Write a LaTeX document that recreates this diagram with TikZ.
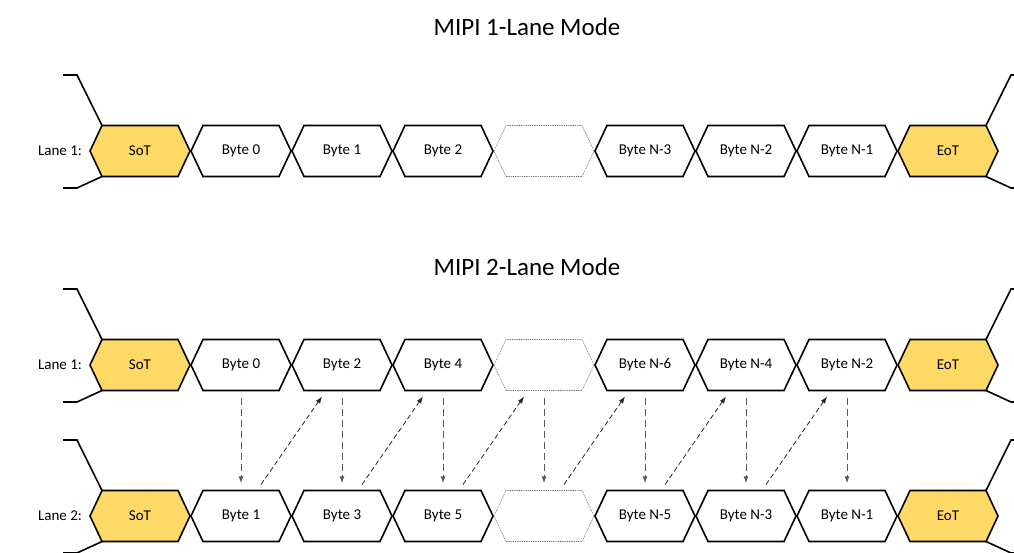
\documentclass[tikz,border=0pt]{standalone}
\usepackage{fontspec}
\setmainfont{Carlito}
\usetikzlibrary{arrows.meta}
\definecolor{sotyellow}{HTML}{FFD966}

% hexagon at (x,y), named node, style, label
\newcommand\hexbyte[5]{\draw[#4] ({#1-50},#2) -- ({#1-38},{#2-25.5}) -- ({#1+38},{#2-25.5}) -- ({#1+50},#2) -- ({#1+38},{#2+25.5}) -- ({#1-38},{#2+25.5}) -- cycle ; \node[lbl] (#3) at (#1,#2) {#5} ; }
% lead lines left and right of a lane
\newcommand\leads[1]{\draw[hexline] (63,{#1-76}) -- (77,{#1-76}) -- (102,{#1-25.5}) ; \draw[hexline] (102,{#1+25.5}) -- (77,{#1+37}) -- (63,{#1+37}) ; \draw[hexline] (1025,{#1-76}) -- (1011,{#1-76}) -- (986,{#1-25.5}) ; \draw[hexline] (986,{#1+25.5}) -- (1011,{#1+37}) -- (1025,{#1+37}) ; }

\begin{document}
\begin{tikzpicture}[x=1pt, y=-1pt,
    hexline/.style={line width=1.6pt, line join=miter},
    bytebox/.style={hexline, fill=white},
    sotbox/.style={hexline, fill=sotyellow},
    dotbox/.style={draw=black!60, line width=0.6pt, dash pattern=on 0.9pt off 0.9pt},
    lbl/.style={inner sep=0, minimum width=76pt, minimum height=51pt, font=\fontsize{15}{18}\selectfont},
    title/.style={font=\fontsize{25}{30}\selectfont},
    vline/.style={draw=black!65, line width=1pt, dash pattern=on 7pt off 4pt, -{Latex[length=7pt,width=5pt]}, shorten <=7pt, shorten >=7pt},
    dline/.style={draw=black!85, line width=0.8pt, dash pattern=on 5pt off 3pt, -{Latex[length=7pt,width=5pt]}, shorten <=7pt, shorten >=7pt}]
    	\useasboundingbox (0,0) rectangle (1014,552);
    
    	% 1-lane mode
    	\node[title] (t1) at (527,27) {MIPI 1-Lane Mode};
    	\node[lbl, minimum width=0] (n1) at (60,151) {Lane 1:};
    	\leads{151}
    	\hexbyte{140}{151}{one0}{sotbox}{SoT}
    	\foreach \txt [count=\i] in {Byte 0,Byte 1,Byte 2}
    		{\hexbyte{140+101*\i}{151}{one\i}{bytebox}{\txt}}
    	\hexbyte{544}{151}{one4}{dotbox}{}
    	\foreach \txt [count=\i from 5] in {Byte N-3,Byte N-2,Byte N-1}
    		{\hexbyte{140+101*\i}{151}{one\i}{bytebox}{\txt}}
    	\hexbyte{948}{151}{one8}{sotbox}{EoT}
    
    	% 2-lane mode
    	\node[title] (t2) at (527,267) {MIPI 2-Lane Mode};
    	\node[lbl, minimum width=0] (n2) at (60,365) {Lane 1:};
    	\node[lbl, minimum width=0] (n3) at (60,516) {Lane 2:};
    	\leads{365}
    	\leads{516}
    
    	% lane 1
    	\hexbyte{140}{365}{la0}{sotbox}{SoT}
    	\foreach \txt [count=\i] in {Byte 0,Byte 2,Byte 4}
    		{\hexbyte{140+101*\i}{365}{la\i}{bytebox}{\txt}}
    	\hexbyte{544}{365}{la4}{dotbox}{}
    	\foreach \txt [count=\i from 5] in {Byte N-6,Byte N-4,Byte N-2}
    		{\hexbyte{140+101*\i}{365}{la\i}{bytebox}{\txt}}
    	\hexbyte{948}{365}{la8}{sotbox}{EoT}
    
    	% lane 2
    	\hexbyte{140}{516}{lb0}{sotbox}{SoT}
    	\foreach \txt [count=\i] in {Byte 1,Byte 3,Byte 5}
    		{\hexbyte{140+101*\i}{516}{lb\i}{bytebox}{\txt}}
    	\hexbyte{544}{516}{lb4}{dotbox}{}
    	\foreach \txt [count=\i from 5] in {Byte N-5,Byte N-3,Byte N-1}
    		{\hexbyte{140+101*\i}{516}{lb\i}{bytebox}{\txt}}
    	\hexbyte{948}{516}{lb8}{sotbox}{EoT}
    
    	% lane 1 down to lane 2
    	\foreach \i in {1,...,7}
    		\draw[vline] (la\i.south) -- (lb\i.north);
    
    	% lane 2 up to next byte on lane 1
    	\foreach \i [evaluate=\i as \j using int(\i+1)] in {1,...,6}
    		\draw[dline] ([xshift=16pt]lb\i.north) -- ([xshift=-16pt]la\j.south);
      \end{tikzpicture}
\end{document}
